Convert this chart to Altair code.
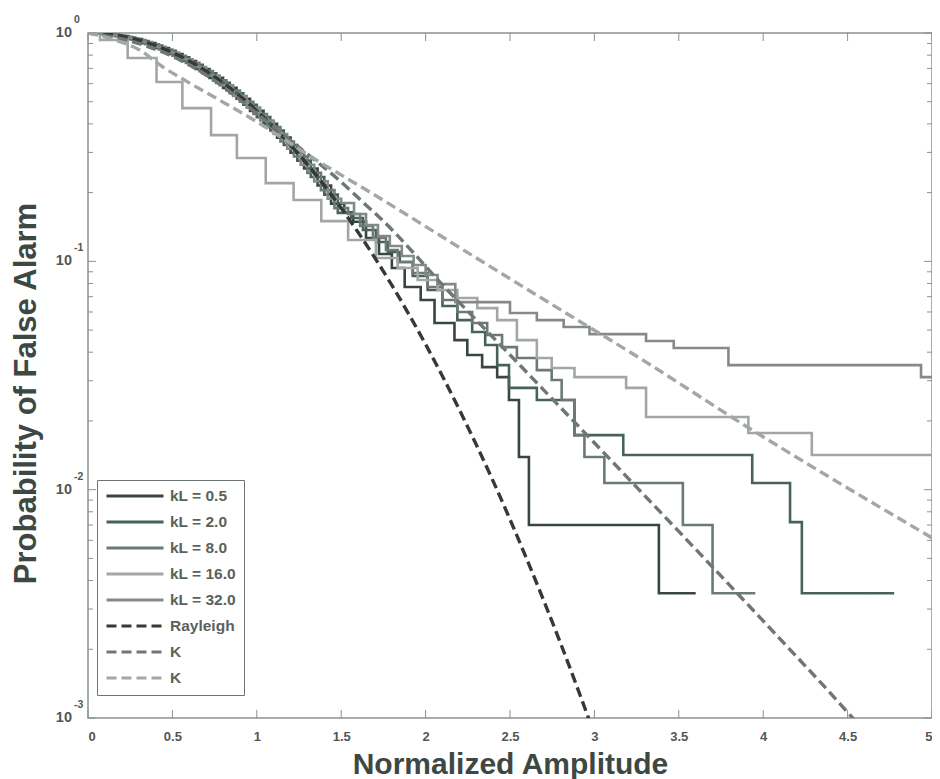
import altair as alt
import pandas as pd

# ---------------- data ----------------
series_names = ["kL = 0.5", "kL = 2.0", "kL = 8.0", "kL = 16.0", "kL = 32.0", "Rayleigh", "K1", "K2"]
series_colors = ["#39463f", "#46625a", "#6b7b74", "#a2a7a4", "#848b87", "#353a38", "#6f7773", "#a3a8a5"]
series_dash = [[1, 0], [1, 0], [1, 0], [1, 0], [1, 0], [10, 5], [10, 5], [10, 5]]

kl05_x = [0, 0.08, 0.16, 0.24, 0.32, 0.40, 0.48, 0.56, 0.64, 0.72, 0.80, 0.88, 0.96, 1.04, 1.12, 1.20, 1.28, 1.36, 1.44,
          1.518, 1.571, 1.647, 1.724, 1.8, 1.876, 1.971, 2.053, 2.171, 2.247, 2.335, 2.424, 2.494, 2.553, 2.612, 3.382, 3.6]
kl05_p = [1.0, 0.989, 0.969, 0.940, 0.903, 0.859, 0.809, 0.754, 0.696, 0.636, 0.575, 0.515, 0.456, 0.400, 0.348, 0.299, 0.255, 0.215, 0.179,
          0.164, 0.149, 0.1265, 0.1076, 0.0935, 0.0772, 0.0677, 0.0537, 0.0452, 0.0389, 0.0344, 0.0311, 0.0247, 0.0139, 0.0070, 0.00352, 0.00352]

kl2_x = [0, 0.04, 0.12, 0.20, 0.28, 0.36, 0.44, 0.52, 0.60, 0.68, 0.76, 0.84, 0.92, 1.00, 1.08, 1.16, 1.24, 1.32, 1.40, 1.48,
         1.559, 1.629, 1.706, 1.776, 1.847, 1.924, 2.012, 2.1, 2.188, 2.276, 2.353, 2.424, 2.494, 2.659, 2.882, 3.171, 3.935, 4.159, 4.229, 4.776]
kl2_p = [1.0, 0.995, 0.980, 0.956, 0.923, 0.882, 0.835, 0.782, 0.725, 0.666, 0.605, 0.545, 0.485, 0.428, 0.374, 0.323, 0.276, 0.234, 0.196, 0.163,
         0.1548, 0.1371, 0.1215, 0.1098, 0.0993, 0.0862, 0.0749, 0.0637, 0.0553, 0.0490, 0.0430, 0.0351, 0.0279, 0.0247, 0.01734, 0.01418, 0.01069, 0.00721, 0.00352, 0.00352]

kl8_x = [0, 0.02, 0.10, 0.18, 0.26, 0.34, 0.42, 0.50, 0.58, 0.66, 0.74, 0.82, 0.90, 0.98, 1.06, 1.14, 1.22, 1.30, 1.38, 1.46,
         1.541, 1.612, 1.688, 1.765, 1.835, 1.924, 2.012, 2.1, 2.188, 2.276, 2.365, 2.453, 2.541, 2.659, 2.747, 2.806, 2.882, 2.941, 3.059, 3.524, 3.7, 3.953]
kl8_p = [1.0, 0.997, 0.985, 0.963, 0.932, 0.893, 0.847, 0.795, 0.740, 0.681, 0.620, 0.560, 0.500, 0.442, 0.387, 0.335, 0.288, 0.244, 0.205, 0.171,
         0.1611, 0.1428, 0.1265, 0.1121, 0.0993, 0.0889, 0.0772, 0.0677, 0.0600, 0.0537, 0.0476, 0.0421, 0.0377, 0.0334, 0.0302, 0.0247, 0.01734, 0.0139, 0.01069, 0.0070, 0.00352, 0.00352]

kl16_x = [0, 0.071, 0.235, 0.406, 0.559, 0.729, 0.882, 1.053, 1.218, 1.382, 1.541, 1.706, 1.835, 1.953, 2.071, 2.188, 2.306,
          2.424, 2.541, 2.659, 2.747, 2.882, 3.188, 3.306, 3.912, 4.288, 5.05]
kl16_p = [1.0, 0.932, 0.777, 0.610, 0.469, 0.357, 0.2835, 0.220, 0.1856, 0.150, 0.124, 0.1034, 0.0935, 0.0828, 0.0749, 0.0691, 0.0624,
          0.0553, 0.0452, 0.0377, 0.0341, 0.0311, 0.0279, 0.0208, 0.0177, 0.01418, 0.01418]

kl32_x = [0, 0.06, 0.14, 0.22, 0.30, 0.38, 0.46, 0.54, 0.62, 0.70, 0.78, 0.86, 0.94, 1.02, 1.10, 1.18, 1.26, 1.34, 1.42,
          1.5, 1.576, 1.647, 1.718, 1.788, 1.859, 1.929, 2.0, 2.071, 2.176, 2.5, 2.659, 2.818, 2.971, 3.306, 3.47, 3.794, 4.935, 5.05]
kl32_p = [1.0, 0.992, 0.975, 0.948, 0.913, 0.871, 0.822, 0.768, 0.710, 0.651, 0.590, 0.530, 0.471, 0.414, 0.361, 0.311, 0.265, 0.224, 0.188,
          0.180, 0.1611, 0.1442, 0.1291, 0.1167, 0.1055, 0.0963, 0.0871, 0.0795, 0.0663, 0.0594, 0.0553, 0.0516, 0.0480, 0.0448, 0.0417, 0.0351, 0.0311, 0.0311]

rayleigh_x = [0, 0.2, 0.4, 0.6, 0.8, 1.0, 1.2, 1.4, 1.6, 1.8, 2.0, 2.2, 2.4, 2.6, 2.8, 3.0]
rayleigh_p = [1.0, 0.969, 0.882, 0.754, 0.605, 0.456, 0.323, 0.215, 0.134, 0.0786, 0.0433, 0.0224, 0.0109, 0.00495, 0.00212, 0.00085]

k1_x = [0, 0.247, 0.482, 0.718, 1.012, 1.247, 1.5, 1.641, 1.718, 2.129, 2.541, 3.206, 3.994, 4.5, 4.541]
k1_p = [1.0, 0.923, 0.801, 0.642, 0.437, 0.317, 0.2225, 0.178, 0.158, 0.0749, 0.0362, 0.0111, 0.00269, 0.00106, 0.00098]

k2_x = [0, 0.159, 0.306, 0.435, 0.571, 0.747, 1.012, 1.324, 1.718, 2.129, 2.676, 3.306, 3.935, 4.382, 5.012]
k2_p = [1.0, 0.932, 0.842, 0.717, 0.622, 0.5245, 0.4035, 0.2863, 0.1913, 0.124, 0.0698, 0.0362, 0.01824, 0.01147, 0.00608]

x_tick_values = [0, 0.5, 1, 1.5, 2, 2.5, 3, 3.5, 4, 4.5, 5]
y_major_values = [1, 0.1, 0.01, 0.001]
y_major_exponents = ["0", "-1", "-2", "-3"]
y_minor_values = [m * d for d in (0.001, 0.01, 0.1) for m in (2, 3, 4, 5, 6, 7, 8, 9)]

# ---------------- tables ----------------
rows = []
for name, xs, ps, kind in [
    ("kL = 0.5", kl05_x, kl05_p, "step"),
    ("kL = 2.0", kl2_x, kl2_p, "step"),
    ("kL = 8.0", kl8_x, kl8_p, "step"),
    ("kL = 16.0", kl16_x, kl16_p, "step"),
    ("kL = 32.0", kl32_x, kl32_p, "step"),
    ("Rayleigh", rayleigh_x, rayleigh_p, "curve"),
    ("K1", k1_x, k1_p, "curve"),
    ("K2", k2_x, k2_p, "curve"),
]:
    for a, b in zip(xs, ps):
        rows.append({"series": name, "x": a, "p": b, "kind": kind})
df = pd.DataFrame(rows)

xticks_df = pd.DataFrame({"t": x_tick_values})
ymaj_df = pd.DataFrame({"v": y_major_values, "e": y_major_exponents})
ymin_df = pd.DataFrame({"v": y_minor_values})

W, H = 844, 685
FONT = "Liberation Sans"
TXT = "#4f5853"
FRAME = "#8c918e"

x_scale = alt.Scale(domain=[0, 5], nice=False, zero=False)
y_scale = alt.Scale(type="log", domain=[0.001, 1], nice=False)

x_axis = alt.Axis(title="Normalized Amplitude", values=x_tick_values, format="~g", ticks=False, domain=False,
                  grid=False, labelFontSize=13, labelFont=FONT, labelFontWeight="bold", labelColor=TXT,
                  labelPadding=12, titleFont=FONT, titleFontSize=30, titleFontWeight="bold",
                  titleColor="#3e4843", titlePadding=6)
y_axis = alt.Axis(title="Probability of False Alarm", labels=False, ticks=False, domain=False, grid=False,
                  titleFont=FONT, titleFontSize=31, titleFontWeight="bold", titleColor="#3e4843",
                  titleX=-62, titleY=360, titleAngle=270, titleAlign="center", titleBaseline="middle")

legend = alt.Legend(orient="none", legendX=9, legendY=447, title=None, symbolType="stroke", symbolSize=3249,
                    symbolStrokeWidth=3, clipHeight=16, rowPadding=9, padding=8, strokeColor="#6f7572",
                    fillColor="white", labelFont=FONT, labelFontSize=15.5, labelFontWeight="bold",
                    labelColor="#59625d", labelOffset=5,
                    labelExpr="datum.label == 'K1' || datum.label == 'K2' ? 'K' : datum.label")

color_enc = alt.Color("series:N", scale=alt.Scale(domain=series_names, range=series_colors), legend=legend)
dash_enc = alt.StrokeDash("series:N", scale=alt.Scale(domain=series_names, range=series_dash), legend=legend)

base = alt.Chart(df).encode(
    x=alt.X("x:Q", scale=x_scale, axis=x_axis),
    y=alt.Y("p:Q", scale=y_scale, axis=y_axis),
    color=color_enc,
    strokeDash=dash_enc,
)

steps = base.transform_filter(alt.datum.kind == "step").mark_line(
    interpolate="step-after", strokeWidth=2.6, clip=True)
curves = base.transform_filter(alt.datum.kind == "curve").mark_line(
    interpolate="monotone", strokeWidth=3.4, clip=True)

# inward tick marks (styling)
xt = alt.Chart(xticks_df).encode(x=alt.X("t:Q", scale=x_scale, axis=x_axis))
xt_bottom = xt.mark_rule(color=FRAME, strokeWidth=1).encode(y=alt.value(H), y2=alt.value(H - 8))
xt_top = xt.mark_rule(color=FRAME, strokeWidth=1).encode(y=alt.value(0), y2=alt.value(8))

ym = alt.Chart(ymaj_df).encode(y=alt.Y("v:Q", scale=y_scale, axis=y_axis))
ym_left = ym.mark_rule(color=FRAME, strokeWidth=1).encode(x=alt.value(0), x2=alt.value(8))
ym_right = ym.mark_rule(color=FRAME, strokeWidth=1).encode(x=alt.value(W), x2=alt.value(W - 8))
yn = alt.Chart(ymin_df).encode(y=alt.Y("v:Q", scale=y_scale, axis=y_axis))
yn_left = yn.mark_rule(color=FRAME, strokeWidth=1).encode(x=alt.value(0), x2=alt.value(5))
yn_right = yn.mark_rule(color=FRAME, strokeWidth=1).encode(x=alt.value(W), x2=alt.value(W - 5))

# y tick labels 10^n
ten = ym.mark_text(align="right", baseline="middle", font=FONT, fontSize=14.5, fontWeight="bold",
                   color=TXT).encode(x=alt.value(-16), text=alt.value("10"))
expo = ym.mark_text(align="left", baseline="middle", font=FONT, fontSize=10.5, fontWeight="bold", dy=-13,
                    color=TXT).encode(x=alt.value(-14), text="e:N")

chart = alt.layer(
    steps, curves, xt_bottom, xt_top, ym_left, ym_right, yn_left, yn_right, ten, expo
).properties(
    width=W, height=H,
    autosize=alt.AutoSizeParams(type="none"),
    padding={"left": 80, "top": 25, "right": 0, "bottom": 61},
).configure_view(stroke=FRAME, strokeWidth=1.5)

chart.save("out.html", embed_options={"renderer": "svg", "actions": False})
